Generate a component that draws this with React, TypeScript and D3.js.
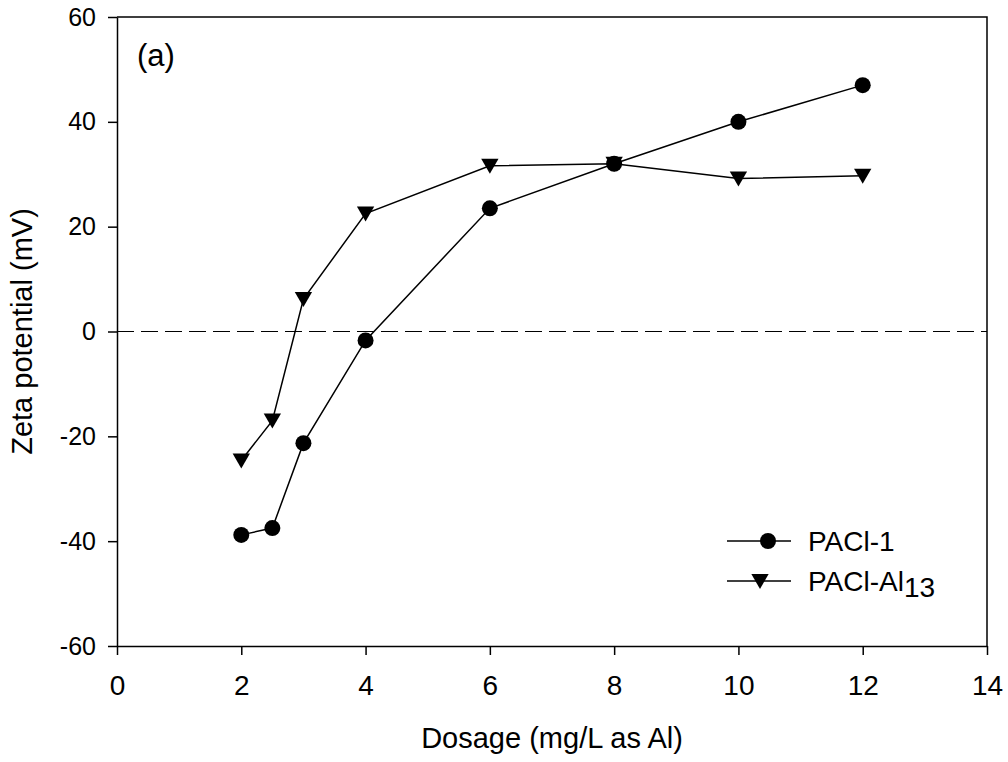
import React, { useRef, useEffect } from 'react';
import * as d3 from 'd3';

// dosage (mg/L as Al)
const dosage = [2, 2.5, 3, 4, 6, 8, 10, 12];
// zeta potential (mV)
const pacl1 = [-38.8, -37.5, -21.3, -1.7, 23.5, 32, 40, 47];
const paclAl13 = [-24.6, -17, 6.2, 22.5, 31.6, 32, 29.2, 29.7];

const xTicks = [0, 2, 4, 6, 8, 10, 12, 14];
const yTicks = [-60, -40, -20, 0, 20, 40, 60];

const FONT = 'Arial, "Liberation Sans", sans-serif';

export default function App() {
  const svgRef = useRef<SVGSVGElement>(null);

  useEffect(() => {
    const W = 1008;
    const H = 762;
    const margin = { top: 17, right: 21, bottom: 116, left: 117 };

    const svg = d3.select(svgRef.current).attr('width', W).attr('height', H);
    svg.selectAll('*').remove();

    const x = d3.scaleLinear().domain([0, 14]).range([margin.left, W - margin.right]);
    const y = d3.scaleLinear().domain([-60, 60]).range([H - margin.bottom, margin.top]);
    const fmt = (d: d3.NumberValue) => String(d);

    // рамка сверху и справа
    svg
      .append('path')
      .attr('d', `M${x(0)},${y(60)}H${x(14)}V${y(-60)}`)
      .attr('fill', 'none')
      .attr('stroke', '#000')
      .attr('stroke-width', 1.5);

    // ось X
    const gx = svg
      .append('g')
      .attr('transform', `translate(0,${y(-60)})`)
      .call(
        d3.axisBottom(x).tickValues(xTicks).tickFormat(fmt)
          .tickSize(9).tickPadding(20).tickSizeOuter(0)
      );
    gx.select('.domain').attr('stroke-width', 1.5);
    gx.selectAll('line').attr('stroke-width', 1.5);
    gx.selectAll('text').style('font-size', '28px').style('font-family', FONT);

    // ось Y
    const gy = svg
      .append('g')
      .attr('transform', `translate(${x(0)},0)`)
      .call(
        d3.axisLeft(y).tickValues(yTicks).tickFormat(fmt)
          .tickSize(9).tickPadding(12).tickSizeOuter(0)
      );
    gy.select('.domain').attr('stroke-width', 1.5);
    gy.selectAll('line').attr('stroke-width', 1.5);
    gy.selectAll('text').style('font-size', '25px').style('font-family', FONT);

    // нулевая линия
    svg
      .append('line')
      .attr('x1', x(0))
      .attr('x2', x(14))
      .attr('y1', y(0))
      .attr('y2', y(0))
      .attr('stroke', '#000')
      .attr('stroke-width', 1.2)
      .attr('stroke-dasharray', '17,7');

    const line = d3
      .line<number>()
      .x((_, i) => x(dosage[i]))
      .y(d => y(d));

    const circle = d3.symbol().type(d3.symbolCircle).size(Math.PI * 8 * 8);
    const tri = d3.symbol().type(d3.symbolTriangle).size(130);

    const series = [
      { values: pacl1, sym: circle, rot: 0, dy: 0 },
      { values: paclAl13, sym: tri, rot: 180, dy: -2 },
    ];

    series.forEach(s => {
      svg
        .append('path')
        .datum(s.values)
        .attr('d', line)
        .attr('fill', 'none')
        .attr('stroke', '#000')
        .attr('stroke-width', 1.5);
      svg
        .append('g')
        .selectAll('path')
        .data(s.values)
        .join('path')
        .attr('d', s.sym() as string)
        .attr('transform', (d, i) => `translate(${x(dosage[i])},${y(d) + s.dy}) rotate(${s.rot})`)
        .attr('fill', '#000');
    });

    // легенда
    const legend = [
      { sym: circle, rot: 0, mx: 768, dy: 0, label: 'PACl-1', sub: '' },
      { sym: tri, rot: 180, mx: 760, dy: -2, label: 'PACl-Al', sub: '13' },
    ];
    legend.forEach((l, i) => {
      const ly = 541 + i * 40;
      svg
        .append('line')
        .attr('x1', 727)
        .attr('x2', 791)
        .attr('y1', ly)
        .attr('y2', ly)
        .attr('stroke', '#000')
        .attr('stroke-width', 1.5);
      svg
        .append('path')
        .attr('d', l.sym() as string)
        .attr('transform', `translate(${l.mx},${ly + l.dy}) rotate(${l.rot})`)
        .attr('fill', '#000');
      const t = svg
        .append('text')
        .attr('x', 808)
        .attr('y', ly + 10)
        .style('font-family', FONT)
        .style('font-size', '28px')
        .text(l.label);
      if (l.sub) {
        t.append('tspan').attr('dy', 6).text(l.sub);
      }
    });

    // (a)
    svg
      .append('text')
      .attr('x', 137)
      .attr('y', 66)
      .style('font-family', FONT)
      .style('font-size', '31px')
      .text('(a)');

    // подписи осей
    svg
      .append('text')
      .attr('x', (x(0) + x(14)) / 2)
      .attr('y', 748)
      .attr('text-anchor', 'middle')
      .style('font-family', FONT)
      .style('font-size', '29px')
      .text('Dosage (mg/L as Al)');

    svg
      .append('text')
      .attr('transform', `translate(32,${y(0)}) rotate(-90)`)
      .attr('text-anchor', 'middle')
      .style('font-family', FONT)
      .style('font-size', '29px')
      .text('Zeta potential (mV)');
  }, []);

  return (
    <div style={{ position: 'absolute', left: 0, top: 0 }}>
      <svg ref={svgRef} style={{ display: 'block' }} />
    </div>
  );
}
